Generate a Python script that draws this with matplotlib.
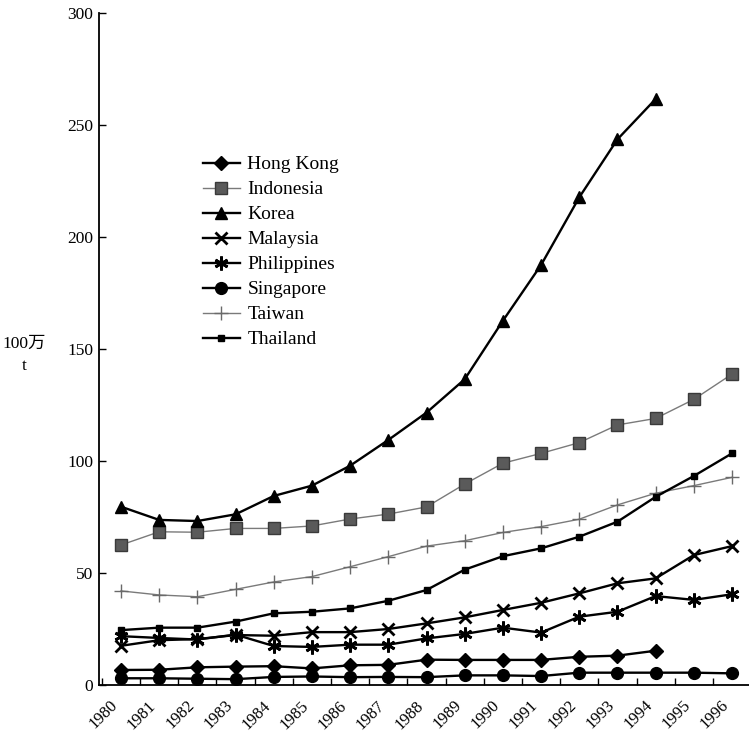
import matplotlib
matplotlib.use("Agg")
import matplotlib.pyplot as plt

years = [str(y) for y in range(1980, 1997)]

hong_kong = [6.7, 6.8, 7.9, 8.2, 8.4, 7.4, 8.8, 9.0, 11.3, 11.2, 11.2, 11.2, 12.6, 13.1, 15.3]
indonesia = [62.5, 68.4, 68.2, 69.9, 69.9, 71.0, 74.1, 76.3, 79.5, 89.7, 99.0, 103.4, 108.2, 116.1, 119.0, 127.5, 138.8]
korea = [79.6, 73.7, 73.2, 76.2, 84.4, 89.0, 97.9, 109.4, 121.6, 136.5, 162.6, 187.5, 217.7, 243.6, 261.6]
malaysia = [17.5, 20.0, 20.5, 22.3, 22.0, 23.6, 23.6, 25.0, 27.5, 30.2, 33.5, 36.7, 40.9, 45.4, 47.6, 58.0, 62.0]
philippines = [21.8, 21.0, 20.3, 22.5, 17.4, 17.0, 18.0, 18.0, 20.8, 22.8, 25.6, 23.4, 30.5, 32.7, 39.7, 38.0, 40.5]
singapore = [3.0, 3.0, 2.8, 2.6, 3.6, 3.8, 3.5, 3.6, 3.5, 4.3, 4.3, 4.0, 5.5, 5.5, 5.5, 5.5, 5.2]
taiwan = [42.0, 40.2, 39.4, 42.7, 46.0, 48.4, 52.8, 57.3, 62.0, 64.4, 68.1, 70.7, 74.0, 80.4, 85.6, 89.0, 92.7]
thailand = [24.5, 25.6, 25.6, 28.3, 32.0, 32.7, 34.2, 37.6, 42.4, 51.5, 57.5, 61.0, 66.2, 72.9, 84.0, 93.3, 103.4]

series_names = ["Hong Kong", "Indonesia", "Korea", "Malaysia", "Philippines", "Singapore", "Taiwan", "Thailand"]
y_ticks = [0, 50, 100, 150, 200, 250, 300]

plt.rcParams['font.family'] = ['Liberation Serif', 'Noto Sans CJK SC', 'DejaVu Sans']

fig = plt.figure(figsize=(7.49, 7.37), dpi=100)
ax = fig.add_axes([99/749, 52/737, 650/749, 672/737])

blk = dict(color='black', lw=1.7)
gry = dict(color='#7a7a7a', lw=1.0)

def xs(vals):
    return list(range(len(vals)))

ax.plot(xs(hong_kong), hong_kong, marker='D', ms=7.5, mfc='black', mec='black', label=series_names[0], **blk)
ax.plot(xs(indonesia), indonesia, marker='s', ms=8, mfc='#5a5a5a', mec='#3a3a3a', mew=1.0, label=series_names[1], **gry)
ax.plot(xs(korea), korea, marker='^', ms=9, mfc='black', mec='black', label=series_names[2], **blk)
ax.plot(xs(malaysia), malaysia, marker='x', ms=9, mew=2.0, mec='black', label=series_names[3], **blk)
ax.plot(xs(philippines), philippines, marker=(6, 2, 0), ms=10, mew=2.0, mec='black', label=series_names[4], **blk)
ax.plot(xs(singapore), singapore, marker='o', ms=8.5, mfc='black', mec='black', label=series_names[5], **blk)
ax.plot(xs(taiwan), taiwan, marker='+', ms=10, mew=1.0, mec='#6a6a6a', label=series_names[6], **gry)
ax.plot(xs(thailand), thailand, marker='s', ms=4, mfc='black', mec='black', label=series_names[7], **blk)

ax.set_xlim(-0.576, 16.445)
ax.set_ylim(0, 300)

for s in ['top', 'right']:
    ax.spines[s].set_visible(False)
for s in ['left', 'bottom']:
    ax.spines[s].set_linewidth(1.3)

ax.set_yticks(y_ticks)
ax.set_yticklabels([str(v) for v in y_ticks], fontsize=12.5)
ax.tick_params(axis='y', direction='in', length=5, width=1.0, pad=4)

ax.set_xticks(range(len(years)))
ax.set_xticklabels(years, rotation=45, ha='right', fontsize=12)
ax.set_xticks([i - 0.5 for i in range(len(years))], minor=True)
ax.tick_params(axis='x', which='major', length=0, pad=9)
ax.tick_params(axis='x', which='minor', direction='in', length=5, width=1.0)

fig.text(24/749, 1 - 344/737, "100万", ha='center', va='center', fontsize=12.5)
fig.text(24/749, 1 - 366/737, "t", ha='center', va='center', fontsize=12.5)

leg = ax.legend(loc='upper left', bbox_to_anchor=(193/749, 1 - 146/737),
                bbox_transform=fig.transFigure, frameon=False, fontsize=14,
                handlelength=1.9, handletextpad=0.4, labelspacing=0.38, borderpad=0)

fig.savefig("out.png", dpi=100)
